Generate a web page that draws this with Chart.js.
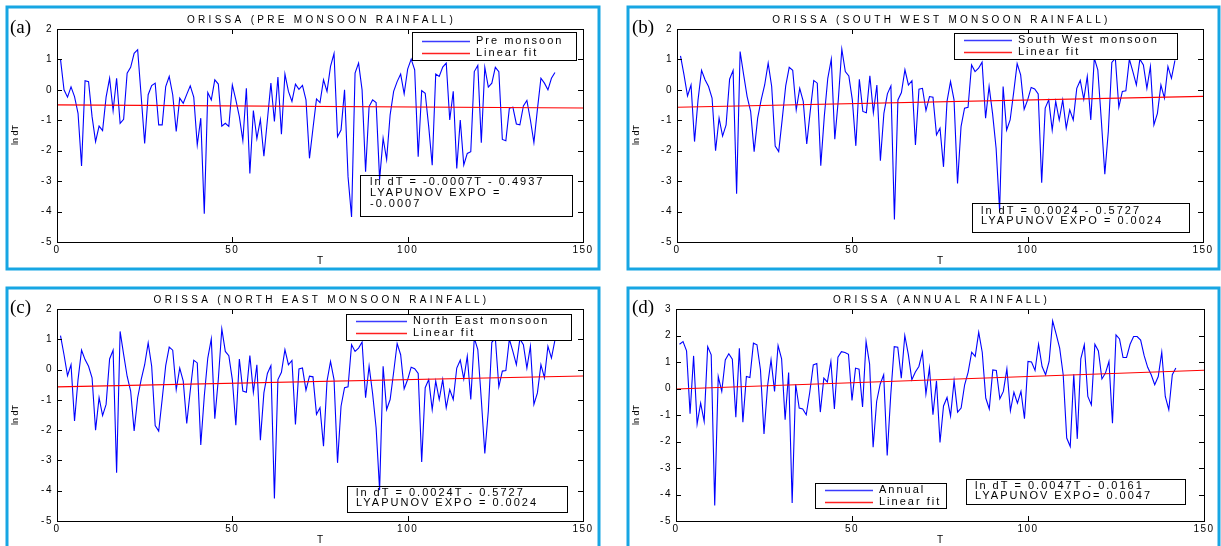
<!DOCTYPE html>
<html><head><meta charset="utf-8">
<script src="https://cdn.jsdelivr.net/npm/chart.js@4.4.1/dist/chart.umd.min.js"></script>
<style>
html,body{margin:0;padding:0;background:#fff;}
body{width:1221px;height:546px;position:relative;overflow:hidden;}
canvas{position:absolute;}
</style></head><body>
<canvas id="ca"></canvas><canvas id="cb"></canvas><canvas id="cc"></canvas><canvas id="cd"></canvas>
<script>
// ---- data ----
const xTicks = [0, 50, 100, 150];
const preMonsoon = [1.0, 0.0, -0.24, 0.1, -0.22, -0.77, -2.5, 0.3, 0.27, -0.88,
 -1.7, -1.19, -1.34, -0.24, 0.38, -0.68, 0.38, -1.1, -0.97, 0.55,
 0.74, 1.2, 1.32, -0.2, -1.76, -0.16, 0.14, 0.22, -1.15, -1.15,
 0.11, 0.44, -0.16, -1.37, -0.27, -0.44, -0.15, 0.13, -0.24, -1.81,
 -0.93, -4.07, -0.09, -0.33, 0.33, 0.19, -1.19, -1.1, -1.2, 0.16,
 -0.33, -0.88, -1.67, 0.05, -2.75, -0.68, -1.6, -0.97, -2.18, -0.99,
 0.22, -1.04, 0.42, -1.46, 0.52, -0.05, -0.38, 0.19, 0.02, 0.15,
 -0.33, -2.25, -1.26, -0.3, -0.42, 0.33, -0.05, 0.77, 1.19, -1.54,
 -1.32, 0, -2.86, -4.18, 0.55, 0.88, 0, -2.69, -0.55, -0.33,
 -0.42, -2.95, -1.59, -2.29, -0.82, -0.05, 0.27, 0.52, -0.13, 0.68,
 1.01, 0.66, -2.2, -0.02, -0.11, -1.21, -2.48, 0.52, 0.44, 0.75,
 0.88, -0.99, -0.05, -2.58, -0.99, -2.47, -2.09, -2.03, 0.6, 0.8,
 -1.74, 0.74, 0.09, 0.22, 0.74, 0.6, -1.63, -1.67, -0.6, -0.57,
 -1.12, -1.15, -0.53, -0.35, -0.99, -1.73, -0.64, 0.38, 0.22, 0,
 0.38, 0.57];
const southWest = [1.12, 0.49, -0.2, 0.16, -1.7, -0.33, 0.64, 0.33, 0.11, -0.27,
 -2.0, -0.93, -1.52, -1.15, 0.35, 0.64, -3.41, 1.26, 0.5, -0.22,
 -0.71, -2.03, -0.93, -0.33, 0.16, 0.88, 0.11, -1.85, -2.03, -0.97,
 0.13, 0.74, 0.64, -0.66, 0.05, -0.38, -1.78, -0.7, 0.31, 0.22,
 -2.49, -0.88, 0.38, 1.01, -1.62, -0.33, 1.34, 0.6, 0.46, -0.33,
 -1.84, 0.35, -0.71, -0.75, 0.46, -0.75, 0.16, -2.33, -0.77, -0.13,
 0.13, -4.26, -0.33, -0.09, 0.66, 0.16, 0.3, -1.81, 0.02, 0.05,
 -0.68, -0.22, -0.24, -1.48, -1.26, -2.53, -0.38, 0.27, -0.33, -3.08,
 -1.21, -0.6, -0.57, 0.82, 0.6, 0.71, 0.91, -0.93, 0.11, -0.79,
 -1.92, -3.98, 0.11, -1.32, -0.99, -0.09, 0.86, 0.49, -0.64, -0.33,
 0.08, 0.03, -0.13, -3.05, -0.6, -0.33, -1.32, -0.38, -0.99, -0.33,
 -1.26, -0.66, -0.99, 0.05, 0.31, -0.31, 0.44, -0.99, 1.04, 0.66,
 -0.99, -2.77, -1.37, 0.9, 1.04, -0.57, -0.05, -0.03, 1.01, 0.6,
 0.16, 1.01, 0.82, 0.05, 0.77, -1.15, -0.77, 0.16, -0.27, 0.77,
 0.38, 0.97];
const northEast = [1.12, 0.49, -0.2, 0.16, -1.7, -0.33, 0.64, 0.33, 0.11, -0.27,
 -2.0, -0.93, -1.52, -1.15, 0.35, 0.64, -3.41, 1.26, 0.5, -0.22,
 -0.71, -2.03, -0.93, -0.33, 0.16, 0.88, 0.11, -1.85, -2.03, -0.97,
 0.13, 0.74, 0.64, -0.66, 0.05, -0.38, -1.78, -0.7, 0.31, 0.22,
 -2.49, -0.88, 0.38, 1.01, -1.62, -0.33, 1.34, 0.6, 0.46, -0.33,
 -1.84, 0.35, -0.71, -0.75, 0.46, -0.75, 0.16, -2.33, -0.77, -0.13,
 0.13, -4.26, -0.33, -0.09, 0.66, 0.16, 0.3, -1.81, 0.02, 0.05,
 -0.68, -0.22, -0.24, -1.48, -1.26, -2.53, -0.38, 0.27, -0.33, -3.08,
 -1.21, -0.6, -0.57, 0.82, 0.6, 0.71, 0.91, -0.93, 0.11, -0.79,
 -1.92, -3.98, 0.11, -1.32, -0.99, -0.09, 0.86, 0.49, -0.64, -0.33,
 0.08, 0.03, -0.13, -3.05, -0.6, -0.33, -1.32, -0.38, -0.99, -0.33,
 -1.26, -0.66, -0.99, 0.05, 0.31, -0.31, 0.44, -0.99, 1.04, 0.66,
 -0.99, -2.77, -1.37, 0.9, 1.04, -0.57, -0.05, -0.03, 1.01, 0.6,
 0.16, 1.01, 0.82, 0.05, 0.77, -1.15, -0.77, 0.16, -0.27, 0.77,
 0.38, 0.97];
const annual = [1.67, 1.77, 1.42, -0.95, 1.23, -1.34, -0.55, -1.24, 1.58, 1.27,
 -4.41, 0.45, -0.11, 1.08, 1.31, 1.11, -1.08, 1.52, -1.27, 0.45,
 0.41, 1.71, 1.65, 0.7, -1.72, 0.08, 1.08, -0.11, 1.62, 1.12,
 -1.18, 0.6, -4.32, 0.16, -0.74, -0.77, -0.99, -0.14, 0.89, 0.94,
 -0.89, 0.39, 0.24, 1.02, -0.77, 1.18, 1.39, 1.36, 1.29, -0.45,
 0.77, 0.73, -0.7, 1.77, 0.92, -2.22, -0.49, 0.16, 0.52, -2.53,
 -0.26, 1.58, 1.56, 0.39, 2.0, 1.29, 0.33, 0.62, 0.83, 1.37,
 -0.21, 0.77, -0.99, 0.29, -2.04, -0.66, -0.34, -1.04, 0.29, -0.89,
 -0.74, 0.14, 0.62, 1.37, 1.21, 2.12, 1.37, -0.36, -0.77, 0.7,
 0.68, -0.39, -0.11, 0.74, -0.84, -0.14, -0.55, -0.11, -1.14, 1.02,
 1.0, 0.68, 1.67, 0.83, 0.52, 1.02, 2.55, 2.05, 1.52, 0.52,
 -1.87, -2.19, 0.54, -1.9, 1.12, 1.65, -0.3, -0.62, 1.67, 1.42,
 0.36, 0.58, 1.02, -1.31, 2.02, 1.87, 1.17, 1.17, 1.67, 1.96,
 1.96, 1.83, 1.24, 0.8, 0.52, 0.14, 0.45, 1.37, -0.3, -0.8,
 0.52, 0.77];
const fitSlopes = [-0.0007, 0.0024, 0.0024, 0.0047];
const fitIntercepts = [-0.4937, -0.5727, -0.5727, -0.0161];
const titles = ['ORISSA (PRE MONSOON RAINFALL)', 'ORISSA (SOUTH WEST MONSOON RAINFALL)',
  'ORISSA (NORTH EAST MONSOON RAINFALL)', 'ORISSA (ANNUAL RAINFALL)'];
const seriesNames = ['Pre monsoon', 'South West monsoon', 'North East monsoon', 'Annual'];
const panelLetters = ['(a)', '(b)', '(c)', '(d)'];
const noteLines = [
  ['ln dT = -0.0007T - 0.4937', 'LYAPUNOV EXPO =', '-0.0007'],
  ['ln dT = 0.0024 - 0.5727', 'LYAPUNOV EXPO = 0.0024'],
  ['ln dT = 0.0024T - 0.5727', 'LYAPUNOV EXPO = 0.0024'],
  ['ln dT = 0.0047T - 0.0161', 'LYAPUNOV EXPO= 0.0047']
];
const yRanges = [[-5, 2], [-5, 2], [-5, 2], [-5, 3]];
const allSeries = [preMonsoon, southWest, northEast, annual];

// ---- layout (page pixels) ----
const layouts = [
  {id:'ca', left:0, top:0, width:615, height:280, area:{l:57,t:29,r:583,b:242}, box:{x:7,y:7,w:592,h:262},
   label:[10,28], titleXY:[320,20], tXY:[320,261], yTitle:[16,135],
   legend:{x:412,y:32,w:164,h:28,r1:41,r2:53,s:422,e:470,tx:476},
   note:{x:360,y:175,w:212,h:41,tx:370,ty:[182,193,204]}},
  {id:'cb', left:615, top:0, width:606, height:280, area:{l:677,t:29,r:1203,b:242}, box:{x:628,y:7,w:591,h:262},
   label:[632,28], titleXY:[940,20], tXY:[940,261], yTitle:[637,135],
   legend:{x:954,y:33,w:223,h:26,r1:40,r2:52,s:964,e:1012,tx:1018},
   note:{x:972,y:203,w:217,h:29,tx:981,ty:[211,221]}},
  {id:'cc', left:0, top:280, width:615, height:266, area:{l:57,t:309,r:583,b:521}, box:{x:7,y:288,w:592,h:270},
   label:[10,308], titleXY:[320,300], tXY:[320,540], yTitle:[16,415],
   legend:{x:346,y:314,w:225,h:26,r1:321,r2:333,s:356,e:407,tx:413},
   note:{x:347,y:486,w:220,h:26,tx:356,ty:[493,503]}},
  {id:'cd', left:615, top:280, width:606, height:266, area:{l:676,t:309,r:1204,b:521}, box:{x:628,y:288,w:591,h:270},
   label:[632,308], titleXY:[940,300], tXY:[940,540], yTitle:[637,415],
   legend:{x:815,y:483,w:131,h:25,r1:490,r2:502,s:825,e:873,tx:879},
   note:{x:966,y:479,w:219,h:25,tx:975,ty:[486,496]}}
];

const SANS = '"Liberation Sans", Arial, sans-serif';
const SERIF = '"Liberation Serif", "Times New Roman", serif';

function makeChart(k) {
  const L = layouts[k];
  const cv = document.getElementById(L.id);
  cv.width = L.width; cv.height = L.height;
  cv.style.left = L.left + 'px'; cv.style.top = L.top + 'px';
  cv.style.width = L.width + 'px'; cv.style.height = L.height + 'px';
  const X = v => v - L.left, Y = v => v - L.top;

  const deco = {
    id: 'deco' + k,
    beforeDraw(chart) { chart.ctx.letterSpacing = '1.5px'; },
    afterDraw(chart) {
      const ctx = chart.ctx, a = chart.chartArea;
      const xs = chart.scales.x, ys = chart.scales.y;
      ctx.save();
      ctx.letterSpacing = '0px';
      // panel frame
      ctx.strokeStyle = '#17a6e3'; ctx.lineWidth = 3;
      ctx.strokeRect(X(L.box.x), Y(L.box.y), L.box.w, L.box.h);
      // plot box
      ctx.strokeStyle = '#000'; ctx.lineWidth = 1;
      ctx.strokeRect(Math.round(a.left) + 0.5, Math.round(a.top) + 0.5, Math.round(a.right - a.left), Math.round(a.bottom - a.top));
      // inward ticks
      ctx.beginPath();
      xs.ticks.forEach(t => {
        const px = Math.round(xs.getPixelForValue(t.value)) + 0.5;
        ctx.moveTo(px, a.bottom); ctx.lineTo(px, a.bottom - 5);
        ctx.moveTo(px, a.top); ctx.lineTo(px, a.top + 5);
      });
      ys.ticks.forEach(t => {
        const py = Math.round(ys.getPixelForValue(t.value)) + 0.5;
        ctx.moveTo(a.left, py); ctx.lineTo(a.left + 5, py);
        ctx.moveTo(a.right, py); ctx.lineTo(a.right - 5, py);
      });
      ctx.stroke();
      ctx.fillStyle = '#000';
      // panel letter
      ctx.font = '19px ' + SERIF; ctx.textAlign = 'left'; ctx.textBaseline = 'middle';
      ctx.fillText(panelLetters[k], X(L.label[0]), Y(L.label[1]));
      // title
      ctx.font = '10px ' + SANS; ctx.textAlign = 'center';
      ctx.letterSpacing = '3.3px';
      ctx.fillText(titles[k], X(L.titleXY[0]) + 1.5, Y(L.titleXY[1]));
      // x title
      ctx.letterSpacing = '0px';
      ctx.font = '10px ' + SANS;
      ctx.fillText('T', X(L.tXY[0]), Y(L.tXY[1]));
      // y title
      ctx.save();
      ctx.translate(X(L.yTitle[0]), Y(L.yTitle[1]));
      ctx.rotate(-Math.PI / 2);
      ctx.font = '9px ' + SANS;
      ctx.fillText('ln dT', 0, 0);
      ctx.restore();
      // legend
      const g = L.legend;
      ctx.fillStyle = '#fff';
      ctx.fillRect(X(g.x), Y(g.y), g.w, g.h);
      ctx.strokeStyle = '#000'; ctx.lineWidth = 1;
      ctx.strokeRect(X(g.x) + 0.5, Y(g.y) + 0.5, g.w, g.h);
      ctx.lineWidth = 1.3;
      ctx.strokeStyle = '#3b3bff';
      ctx.beginPath(); ctx.moveTo(X(g.s), Y(g.r1) + 0.5); ctx.lineTo(X(g.e), Y(g.r1) + 0.5); ctx.stroke();
      ctx.strokeStyle = '#ff2020';
      ctx.beginPath(); ctx.moveTo(X(g.s), Y(g.r2) + 0.5); ctx.lineTo(X(g.e), Y(g.r2) + 0.5); ctx.stroke();
      ctx.fillStyle = '#000';
      ctx.font = '11px ' + SANS; ctx.textAlign = 'left'; ctx.textBaseline = 'middle';
      ctx.letterSpacing = '2px';
      ctx.fillText(seriesNames[k], X(g.tx), Y(g.r1));
      ctx.fillText('Linear fit', X(g.tx), Y(g.r2));
      // note box
      const n = L.note;
      ctx.lineWidth = 1; ctx.strokeStyle = '#000';
      ctx.strokeRect(X(n.x) + 0.5, Y(n.y) + 0.5, n.w, n.h);
      noteLines[k].forEach((s, i) => ctx.fillText(s, X(n.tx), Y(n.ty[i])));
      ctx.restore();
    }
  };

  return new Chart(cv, {
    type: 'line',
    data: {
      datasets: [
        { label: seriesNames[k], data: allSeries[k].map((v, i) => ({ x: i + 1, y: v })),
          borderColor: '#0000ff', borderWidth: 1.1, pointRadius: 0, tension: 0, order: 2 },
        { label: 'Linear fit', data: [0, 150].map(t => ({ x: t, y: fitSlopes[k] * t + fitIntercepts[k] })),
          borderColor: '#ff0000', borderWidth: 1.1, pointRadius: 0, order: 1 }
      ]
    },
    options: {
      responsive: false, animation: false, devicePixelRatio: 1,
      layout: { padding: { left: 0, top: L.area.t - L.top, right: L.left + L.width - L.area.r, bottom: 0 } },
      plugins: { legend: { display: false }, tooltip: { enabled: false }, title: { display: false } },
      scales: {
        x: { type: 'linear', min: 0, max: 150,
             afterBuildTicks: s => { s.ticks = xTicks.map(v => ({ value: v })); },
             ticks: { color: '#000', font: { family: SANS, size: 10 }, padding: 2, maxRotation: 0 },
             grid: { display: false, drawTicks: false }, border: { display: false },
             afterFit: s => { s.height = L.top + L.height - L.area.b; } },
        y: { type: 'linear', min: yRanges[k][0], max: yRanges[k][1],
             ticks: { stepSize: 1, color: '#000', font: { family: SANS, size: 10 }, padding: 4 },
             grid: { display: false, drawTicks: false }, border: { display: false },
             afterFit: s => { s.width = L.area.l - L.left; } }
      }
    },
    plugins: [deco]
  });
}
[0, 1, 2, 3].forEach(makeChart);
</script>
</body></html>
